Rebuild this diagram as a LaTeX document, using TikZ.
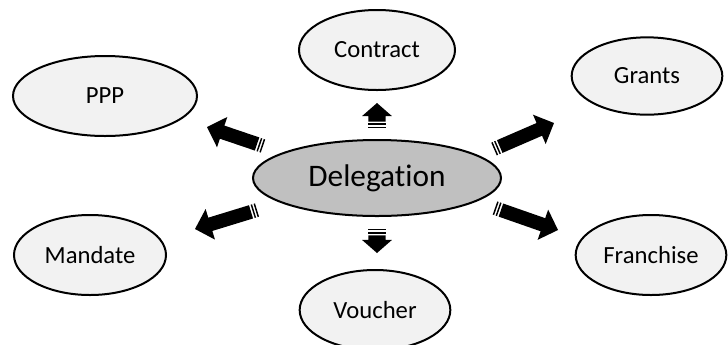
\documentclass[tikz,border=0pt]{standalone}
\usepackage{fontspec}
\setmainfont[Ligatures=NoCommon]{Carlito}
\usepackage{tikz}
\usetikzlibrary{shapes.geometric}
\usetikzlibrary{calc}
\definecolor{ovalgray}{HTML}{F2F2F2}
\definecolor{hubgray}{HTML}{C0C0C0}
\tikzset{oval/.style = {draw, ellipse, line width = 1.5pt, fill = ovalgray,
                        inner sep = 0, font = \fontsize{18.5}{20}\selectfont}}
\tikzset{hub/.style = {oval, fill = hubgray, font = \fontsize{23.5}{26}\selectfont}}
% striped block arrow from coordinate #1 (tail) to coordinate #2 (tip)
% #3 half shaft; #4 half head; #5 head length
\newcommand{\stripedarrow}[5]{%
  \coordinate (sa-t) at (#1);
  \coordinate (sa-h) at (#2);
  \coordinate (sa-b) at ($(sa-h)!#5!(sa-t)$);
  \coordinate (sa-1) at ($(sa-t)!1.1pt!(sa-h)$);
  \coordinate (sa-2) at ($(sa-t)!2.3pt!(sa-h)$);
  \coordinate (sa-3) at ($(sa-t)!3.4pt!(sa-h)$);
  \coordinate (sa-4) at ($(sa-t)!4.7pt!(sa-h)$);
  \fill ($(sa-t)!#3!90:(sa-h)$) -- ($(sa-1)!#3!90:(sa-h)$)
     -- ($(sa-1)!#3!-90:(sa-h)$) -- ($(sa-t)!#3!-90:(sa-h)$) -- cycle;
  \fill ($(sa-2)!#3!90:(sa-h)$) -- ($(sa-3)!#3!90:(sa-h)$)
     -- ($(sa-3)!#3!-90:(sa-h)$) -- ($(sa-2)!#3!-90:(sa-h)$) -- cycle;
  \fill ($(sa-4)!#3!90:(sa-h)$) -- ($(sa-b)!#3!90:(sa-h)$)
     -- ($(sa-b)!#4!90:(sa-h)$) -- (sa-h) -- ($(sa-b)!#4!-90:(sa-h)$)
     -- ($(sa-b)!#3!-90:(sa-h)$) -- ($(sa-4)!#3!-90:(sa-h)$) -- cycle;
}

\begin{document}
\begin{tikzpicture}[x=0.75pt, y=-0.75pt]
    \useasboundingbox (0, 0) rectangle (728, 344);

    \node [hub, minimum width = 186pt, minimum height = 57pt] (deleg) at (377, 178) {Delegation};

    \node [oval, minimum width = 117pt, minimum height = 60pt] (contract) at (377, 50) {Contract};
    \node [oval, minimum width = 138pt, minimum height = 60pt] (ppp) at (105, 96) {PPP};
    \node [oval, minimum width = 113pt, minimum height = 58pt] (grants) at (647, 76) {Grants};
    \node [oval, minimum width = 114pt, minimum height = 60pt] (mandate) at (90, 255) {Mandate};
    \node [oval, minimum width = 113pt, minimum height = 60pt] (franchise) at (651, 255) {Franchise};
    \node [oval, minimum width = 113pt, minimum height = 60pt] (voucher) at (375, 310) {Voucher};

    % arrow ends
    \coordinate (contract-tail) at (377, 128);
    \coordinate (contract-tip) at (377, 103);
    \coordinate (voucher-tail) at (377, 229);
    \coordinate (voucher-tip) at (377, 253);
    \coordinate (ppp-tail) at (263, 146);
    \coordinate (ppp-tip) at (207, 127);
    \coordinate (grants-tail) at (494, 149);
    \coordinate (grants-tip) at (554, 123);
    \coordinate (mandate-tail) at (257, 210);
    \coordinate (mandate-tip) at (195, 229);
    \coordinate (franchise-tail) at (495, 208);
    \coordinate (franchise-tip) at (558, 230);

    \stripedarrow{contract-tail}{contract-tip}{6.4pt}{11.2pt}{9.8pt}
    \stripedarrow{voucher-tail}{voucher-tip}{6.4pt}{11.2pt}{9.8pt}
    \stripedarrow{ppp-tail}{ppp-tip}{5.2pt}{12pt}{12pt}
    \stripedarrow{grants-tail}{grants-tip}{5.2pt}{12pt}{12pt}
    \stripedarrow{mandate-tail}{mandate-tip}{5.2pt}{12pt}{12pt}
    \stripedarrow{franchise-tail}{franchise-tip}{5.2pt}{12pt}{12pt}
  \end{tikzpicture}
\end{document}
